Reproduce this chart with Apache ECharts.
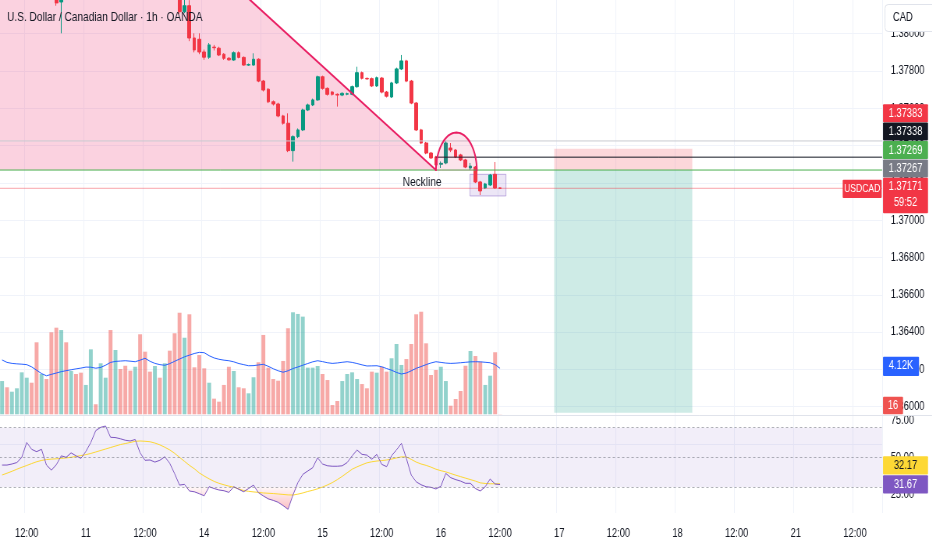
<!DOCTYPE html>
<html><head><meta charset="utf-8">
<script src="https://cdn.jsdelivr.net/npm/echarts@6.0.0/dist/echarts.min.js"></script>
<style>
html,body{margin:0;padding:0;overflow:hidden;background:#fff;width:932px;height:550px}
#wrap{width:932px;height:550px;overflow:hidden;position:relative}
#chart{width:1195px;height:550px;transform:scaleX(0.78);transform-origin:0 0;position:absolute;left:0;top:0}
</style></head>
<body><div id="wrap"><div id="chart"></div></div>
<script>
// ---------- data ----------
const days = ['10','11','14','15','16','17','18','21'];
const firstHour = 7;
const barCount = 179;
const categories = [];
for (const d of days) for (let h = 0; h < 24; h++) {
  if (d === '10' && h < firstHour) continue;
  categories.push(d + ' ' + String(h).padStart(2,'0') + ':00');
}
const cats = categories.slice(0, barCount);

// [open, close, low, high]
const candles = [
[1.38300,1.38320,1.38290,1.38340],[1.38320,1.38300,1.38280,1.38330],[1.38295,1.38305,1.38285,1.38315],[1.38305,1.38320,1.38295,1.38330],
[1.38320,1.38345,1.38310,1.38360],[1.38345,1.38400,1.38340,1.38420],[1.38400,1.38370,1.38355,1.38410],[1.38390,1.38360,1.38345,1.38405],
[1.38360,1.38385,1.38350,1.38395],[1.38385,1.38290,1.38280,1.38395],[1.38290,1.38230,1.38210,1.38300],[1.38230,1.38165,1.38150,1.38245],
[1.38170,1.38290,1.38002,1.38300],[1.38290,1.38270,1.38255,1.38320],[1.38270,1.38310,1.38260,1.38320],[1.38310,1.38290,1.38280,1.38325],
[1.38290,1.38275,1.38265,1.38300],[1.38275,1.38330,1.38270,1.38340],[1.38330,1.38420,1.38325,1.38430],[1.38420,1.38410,1.38400,1.38430],
[1.38410,1.38450,1.38405,1.38460],[1.38450,1.38470,1.38440,1.38485],[1.38470,1.38390,1.38380,1.38480],[1.38390,1.38400,1.38375,1.38415],
[1.38400,1.38390,1.38380,1.38410],[1.38390,1.38380,1.38370,1.38400],[1.38380,1.38375,1.38365,1.38390],[1.38375,1.38395,1.38370,1.38405],
[1.38395,1.38320,1.38310,1.38400],[1.38320,1.38300,1.38290,1.38330],[1.38305,1.38300,1.38290,1.38315],[1.38285,1.38295,1.38280,1.38305],
[1.38300,1.38290,1.38280,1.38310],[1.38290,1.38320,1.38285,1.38330],[1.38320,1.38290,1.38280,1.38325],[1.38290,1.38210,1.38200,1.38295],
[1.38210,1.38118,1.38105,1.38220],[1.38118,1.38150,1.38110,1.38190],[1.38150,1.37977,1.37960,1.38180],[1.37977,1.37913,1.37900,1.38002],
[1.37970,1.37902,1.37890,1.38002],[1.37902,1.37874,1.37860,1.37915],[1.37874,1.37940,1.37865,1.37950],[1.37928,1.37925,1.37910,1.37940],
[1.37922,1.37886,1.37880,1.37930],[1.37890,1.37868,1.37860,1.37895],[1.37868,1.37860,1.37855,1.37875],[1.37859,1.37898,1.37855,1.37905],
[1.37898,1.37873,1.37868,1.37905],[1.37873,1.37832,1.37828,1.37878],[1.37832,1.37834,1.37828,1.37840],[1.37832,1.37863,1.37828,1.37895],
[1.37863,1.37746,1.37740,1.37868],[1.37746,1.37698,1.37690,1.37752],[1.37702,1.37635,1.37628,1.37708],[1.37635,1.37623,1.37615,1.37642],
[1.37623,1.37559,1.37552,1.37630],[1.37559,1.37520,1.37512,1.37565],[1.37520,1.37373,1.37365,1.37573],[1.37373,1.37448,1.37314,1.37455],
[1.37448,1.37484,1.37440,1.37492],[1.37484,1.37591,1.37478,1.37598],[1.37591,1.37618,1.37585,1.37625],[1.37618,1.37645,1.37612,1.37652],
[1.37645,1.37769,1.37640,1.37775],[1.37769,1.37707,1.37700,1.37775],[1.37707,1.37675,1.37668,1.37712],[1.37687,1.37675,1.37668,1.37692],
[1.37675,1.37671,1.37609,1.37680],[1.37671,1.37680,1.37665,1.37686],[1.37676,1.37678,1.37670,1.37684],[1.37675,1.37716,1.37670,1.37722],
[1.37716,1.37791,1.37710,1.37823],[1.37791,1.37761,1.37755,1.37797],[1.37760,1.37758,1.37752,1.37766],[1.37759,1.37720,1.37714,1.37765],
[1.37720,1.37764,1.37715,1.37770],[1.37762,1.37687,1.37680,1.37768],[1.37687,1.37665,1.37658,1.37693],[1.37661,1.37736,1.37655,1.37742],
[1.37736,1.37811,1.37730,1.37818],[1.37811,1.37854,1.37805,1.37886],[1.37854,1.37746,1.37740,1.37860],[1.37746,1.37628,1.37622,1.37752],
[1.37628,1.37484,1.37478,1.37634],[1.37484,1.37414,1.37408,1.37490],[1.37414,1.37360,1.37354,1.37420],[1.37360,1.37334,1.37328,1.37366],
[1.37339,1.37296,1.37270,1.37345],[1.37300,1.37305,1.37280,1.37315],[1.37307,1.37414,1.37300,1.37425],[1.37387,1.37376,1.37365,1.37414],
[1.37376,1.37339,1.37333,1.37382],[1.37350,1.37323,1.37317,1.37356],[1.37323,1.37285,1.37279,1.37329],[1.37280,1.37290,1.37269,1.37307],
[1.37285,1.37205,1.37199,1.37291],[1.37205,1.37157,1.37135,1.37211],[1.37173,1.37194,1.37167,1.37200],[1.37189,1.37242,1.37183,1.37248],
[1.37246,1.37173,1.37168,1.37312],[1.37173,1.37171,1.37168,1.37175]
];

const volume = [
2980,2420,2025,2330,3760,3280,2830,6450,3610,3160,
7350,7760,7550,6450,3880,3610,3730,2630,5820,900,
4570,3280,7550,5760,4060,4350,3910,4260,7170,5610,
3820,4330,3280,4570,5700,7260,9100,6860,8960,4210,
5310,4120,2830,1400,1130,2630,4260,3880,2420,2330,
1880,3320,4660,7110,4180,3160,3010,4780,7710,9140,
8990,8750,4180,4180,4330,3610,3070,830,1190,2980,
3610,3760,3160,2710,2330,3820,3730,4260,3820,5020,
6300,4420,4950,6300,8960,9190,6360,3520,3970,4260,
2980,770,1370,2090,4350,5670,5220,4710,2630,3460,
5560,16];

const volumeMA = [
4870,4650,4560,4520,4490,4450,4250,3950,3650,3450,
3580,3700,3820,3910,3990,4070,4140,4230,4220,4130,
4200,4400,4650,4740,4770,4800,4760,4710,4850,5020,
4750,4560,4450,4390,4540,4750,4950,5150,5300,5450,
5550,5520,5250,5050,4930,4850,4800,4700,4550,4450,
4350,4360,4420,4480,4300,4080,3900,3770,3900,4100,
4240,4400,4550,4700,4800,4720,4620,4560,4600,4660,
4710,4650,4550,4430,4330,4340,4350,4260,4100,3950,
3750,3610,3700,3900,4120,4280,4450,4600,4710,4650,
4590,4560,4580,4620,4660,4700,4710,4700,4660,4620,
4450,4120];

const rsi = [
44.8,44.8,45.5,46.5,50,60,55.4,53.8,55.4,44.8,
41.4,45,51,50,53,51,49.3,54,60,68,
70.2,71.1,63.5,63.3,62.5,61.5,61,62,53,48,
48.2,46.8,48,50.4,46,39,31.3,31.8,27.3,26.8,
25.5,24.1,30.2,29,28,27.5,26.4,30.2,28.5,26.8,
29,31.3,26.2,24,22,21,19.7,17.5,15,24.6,
33,38.5,40.8,43,49.7,45.5,44.3,44,44,44.3,
46.5,51,54.9,52,51.5,48.7,52,45.3,43.7,51.1,
55,59.4,49.3,38,33.5,31.5,30.2,29.8,28.7,30.5,
39.2,36.3,35,34,32.5,32.5,29,27.3,30.2,35.4,
32,31.67];

const rsiMA = [
38.1,39.3,40.6,42,43.3,44.5,45.8,47,47.9,48.5,
48.8,49,49.3,49.6,50,50.6,51.2,51.8,52.6,53.6,
54.6,55.6,56.6,57.6,58.6,59.3,60,60.8,61,60.8,
60.5,59.6,58.4,56.8,55,52.7,50,47.3,44.6,42.3,
39.5,37.4,35.5,33.8,32.5,31.5,30.6,29.9,28.7,27.6,
27.1,26.7,26.4,26,25.8,25.6,25.3,25,24.7,24.6,
25.2,26,27,27.8,28.8,30,31.4,33,35,37.2,
39.6,42,43.6,45,46.3,47,47.5,47.8,48.2,48.8,
49.6,50.3,50.3,48.6,46.8,45.5,44.6,43.4,42,41,
40.2,39.1,38,37,36,35,34,32.8,32.4,32.2,
32.2,32.17];

const rsiBands = [70, 50, 30];
const rsiTicks = [25, 50, 75];

// drawings (x in bar index, y in price)
const grayLevel = 1.37425;
const resistanceLevel = 1.37338;
const necklineLevel = 1.37269;
const stopLevel = 1.37383;
const prevLevel = 1.37267;
const lastPrice = 1.37171;
const targetLevel = 1.35967;
const trendLine = [[43.3, 1.38350], [88, 1.37269]];
const shadedZone = [[-1, 1.38350], [43.3, 1.38350], [88, 1.37269], [-1, 1.37269]];
const arcStart = [88, 1.37269], arcPeak = [92.1, 1.37470], arcEnd = [96.3, 1.37258];
const positionX = [112, 140];
const boxX = [94.9, 102.2], boxY = [1.37246, 1.37130];
const resistanceFrom = 88;
const necklineLabel = [85.2, 1.37205];
const timer = '59:52';

// ---------- layout helpers ----------
const S = 0.78;                 // horizontal squeeze of the page
const sx = v => v / S;          // screen px -> chart px
const FONT = "'Liberation Sans', Arial, sans-serif";
const isMajor = (i, v) => { const hh = String(v).split(' ')[1]; return hh === '00:00' || hh === '12:00'; };
const fmtTime = v => { const p = String(v).split(' '); return p[1] === '00:00' ? p[0] : (p[1] === '12:00' ? '12:00' : ''); };

const UP = '#089981', DOWN = '#F23645';
const volData = volume.map((v, i) => ({
  value: v,
  itemStyle: { color: candles[i][1] >= candles[i][0] ? 'rgba(38,166,154,0.5)' : 'rgba(239,83,80,0.5)' }
}));

function drawing(name, z, build) {
  return { type: 'custom', name, xAxisIndex: 3, yAxisIndex: 0, z, silent: true, clip: true,
    data: [[50, 1.37]], renderItem: (params, api) => build(api) };
}
function hline(api, x0, x1, y, style) {
  const a = api.coord([x0, y]), b = api.coord([x1, y]);
  return { type: 'line', shape: { x1: a[0], y1: a[1], x2: b[0], y2: b[1] }, style };
}
function rectEl(api, x0, x1, y0, y1, style) {
  const a = api.coord([x0, y0]), b = api.coord([x1, y1]);
  return { type: 'rect', shape: { x: a[0], y: a[1], width: b[0] - a[0], height: b[1] - a[1] }, style };
}

const option = {
  animation: false,
  backgroundColor: '#ffffff',
  textStyle: { fontFamily: FONT },
  grid: [
    { left: sx(-0.4), width: sx(882.5), top: -3.6, height: 447.6, outerBoundsMode: 'none' },
    { left: sx(-0.4), width: sx(882.5), top: 0, height: 414.3, outerBoundsMode: 'none' },
    { left: sx(-0.4), width: sx(882.5), top: 416.5, height: 96.5, outerBoundsMode: 'none' }
  ],
  xAxis: [
    { type: 'category', gridIndex: 0, data: cats, axisLine: { show: false }, axisTick: { show: false },
      axisLabel: { show: false }, splitLine: { show: true, interval: isMajor, lineStyle: { color: '#f0f3fa' } } },
    { type: 'category', gridIndex: 1, data: cats, show: false },
    { type: 'category', gridIndex: 2, data: cats, axisLine: { show: false }, axisTick: { show: false },
      axisLabel: { interval: isMajor, formatter: fmtTime, color: '#131722', fontSize: 12, margin: 15, fontFamily: FONT },
      splitLine: { show: true, interval: isMajor, lineStyle: { color: '#f0f3fa' } } },
    { type: 'value', gridIndex: 0, min: -0.5, max: barCount - 0.5, show: false, splitLine: { show: false } }
  ],
  yAxis: [
    { type: 'value', gridIndex: 0, position: 'right', min: 1.358, max: 1.382, interval: 0.002, scale: true,
      axisLine: { show: false }, axisTick: { show: false }, splitLine: { lineStyle: { color: '#f0f3fa' } },
      axisLabel: { color: '#131722', fontSize: 12, margin: 11, fontFamily: FONT,
        formatter: v => (v < 1.3595 || v > 1.3805) ? '' : v.toFixed(5) } },
    { type: 'value', gridIndex: 1, min: 0, max: 37120, show: false, splitLine: { show: false } },
    { type: 'value', gridIndex: 2, position: 'right', min: 12.5, max: 77.5, interval: 12.5,
      axisLine: { show: false }, axisTick: { show: false }, splitLine: { show: false },
      axisLabel: { color: '#131722', fontSize: 12, margin: 11, fontFamily: FONT, showMinLabel: false, showMaxLabel: false,
        formatter: v => rsiTicks.some(t => Math.abs(t - v) < 1e-6) ? v.toFixed(2) : '' } }
  ],
  series: [
    drawing('zone', 1, api => ({ type: 'polygon', shape: { points: shadedZone.map(p => api.coord(p)) },
      style: { fill: 'rgba(233,30,99,0.2)' } })),
    drawing('position', 1, api => ({ type: 'group', children: [
      rectEl(api, positionX[0], positionX[1], stopLevel, necklineLevel, { fill: 'rgba(242,54,69,0.2)' }),
      rectEl(api, positionX[0], positionX[1], necklineLevel, targetLevel, { fill: 'rgba(8,153,129,0.2)' })
    ] })),
    drawing('box', 1, api => rectEl(api, boxX[0], boxX[1], boxY[0], boxY[1],
      { fill: 'rgba(149,117,205,0.18)', stroke: 'rgba(149,117,205,0.55)', lineWidth: 1 })),
    {
      type: 'candlestick', name: 'USDCAD', xAxisIndex: 0, yAxisIndex: 0, z: 2, barWidth: '66%', clip: true,
      data: candles,
      itemStyle: { color: UP, color0: DOWN, borderColor: UP, borderColor0: DOWN, borderWidth: 1 }
    },
    drawing('levels', 3, api => ({ type: 'group', children: [
      hline(api, -0.5, barCount - 0.5, grayLevel, { stroke: '#c9cbd1', lineWidth: 1 }),
      hline(api, resistanceFrom, barCount - 0.5, resistanceLevel, { stroke: '#131722', lineWidth: 1 }),
      hline(api, -0.5, barCount - 0.5, necklineLevel, { stroke: '#4CAF50', lineWidth: 1 }),
      hline(api, -0.5, barCount - 0.5, lastPrice, { stroke: 'rgba(242,54,69,0.45)', lineWidth: 1 })
    ] })),
    drawing('pattern', 4, api => {
      const a = api.coord(arcStart), b = api.coord(arcPeak), c = api.coord(arcEnd);
      const cx = (a[0] + c[0]) / 2, base = (a[1] + c[1]) / 2, rx = (c[0] - a[0]) / 2, ry = base - b[1];
      const pts = [];
      for (let k = 0; k <= 48; k++) { const t = Math.PI - Math.PI * k / 48; pts.push([cx + rx * Math.cos(t), base - ry * Math.sin(t)]); }
      return { type: 'group', children: [
        { type: 'polygon', shape: { points: pts }, style: { fill: 'rgba(233,30,99,0.12)' } },
        { type: 'polyline', shape: { points: pts }, style: { stroke: '#E91E63', lineWidth: 2, fill: null } },
        { type: 'polyline', shape: { points: trendLine.map(p => api.coord(p)) }, style: { stroke: '#E91E63', lineWidth: 2, fill: null } }
      ] };
    }),
    drawing('label', 4, api => {
      const p = api.coord(necklineLabel);
      return { type: 'text', x: p[0], y: p[1], style: { text: 'Neckline', fill: '#131722', fontSize: 13, fontFamily: FONT, align: 'center', verticalAlign: 'middle' } };
    }),
    { type: 'bar', name: 'Volume', xAxisIndex: 1, yAxisIndex: 1, barWidth: '78%', data: volData, silent: true },
    { type: 'line', name: 'Volume MA', xAxisIndex: 1, yAxisIndex: 1, data: volumeMA, symbol: 'none',
      lineStyle: { color: '#2962FF', width: 1 }, silent: true, z: 3 },
    { type: 'line', name: 'oversold', xAxisIndex: 2, yAxisIndex: 2, data: rsi.map(v => Math.min(v, rsiBands[2])),
      symbol: 'none', lineStyle: { width: 0, opacity: 0 }, silent: true,
      areaStyle: { origin: rsiBands[2], color: new echarts.graphic.LinearGradient(0, 0, 0, 1, [
        { offset: 0, color: 'rgba(242,54,69,0.05)' }, { offset: 1, color: 'rgba(242,54,69,0.45)' }]) } },
    { type: 'line', name: 'RSI MA', xAxisIndex: 2, yAxisIndex: 2, data: rsiMA, symbol: 'none',
      lineStyle: { color: '#FDD835', width: 1 }, silent: true, z: 3 },
    { type: 'line', name: 'RSI', xAxisIndex: 2, yAxisIndex: 2, data: rsi, symbol: 'none',
      lineStyle: { color: '#7E57C2', width: 1 }, silent: true, z: 4,
      markLine: { silent: true, symbol: 'none', label: { show: false },
        lineStyle: { color: 'rgba(120,123,134,0.6)', type: [3, 3], width: 1 },
        data: rsiBands.map(v => ({ yAxis: v })) },
      markArea: { silent: true, itemStyle: { color: 'rgba(126,87,194,0.1)' },
        data: [[{ yAxis: rsiBands[0] }, { yAxis: rsiBands[2] }]] } }
  ]
};

const chart = echarts.init(document.getElementById('chart'), null, { renderer: 'canvas' });
chart.setOption(option);

// ---------- price-scale tags & overlays ----------
const yP = (axis, v) => chart.convertToPixel({ yAxisIndex: axis }, v);
const ZT = 100;
function tag(xs0, xs1, top, h, bg, texts, color, fs, gap) {
  const x0 = sx(xs0), x1 = sx(xs1);
  const out = [{ type: 'rect', z: ZT, shape: { x: x0, y: top, width: x1 - x0, height: h, r: 1 }, style: { fill: bg } }];
  texts.forEach((t, k) => out.push({ type: 'text', z: ZT + 1, x: (x0 + x1) / 2, y: top + 9.3 + k * (gap || 15),
    style: { text: t, fill: color, fontSize: fs || 12, fontFamily: FONT, align: 'center', verticalAlign: 'middle' } }));
  return out;
}
const curY = yP(0, lastPrice);
const curTop = curY - 10.5;
const step = 18.4;
let gfx = [
  { type: 'text', z: ZT, x: sx(7), y: 17.5, style: { text: 'U.S. Dollar / Canadian Dollar · 1h · OANDA', fill: '#131722',
      fontSize: 13, fontFamily: FONT, verticalAlign: 'middle' } },
  { type: 'rect', z: ZT, shape: { x: sx(885), y: 4.5, width: sx(60), height: 27, r: 4 },
    style: { fill: '#ffffff', stroke: '#e0e3eb', lineWidth: 1 } },
  { type: 'text', z: ZT + 1, x: sx(893), y: 17.5, style: { text: 'CAD', fill: '#131722', fontSize: 12, fontFamily: FONT, verticalAlign: 'middle' } },
  { type: 'line', z: ZT - 10, shape: { x1: 0, y1: 415.5, x2: sx(932), y2: 415.5 }, style: { stroke: '#e0e3eb', lineWidth: 1 } }
];
gfx = gfx.concat(
  tag(883, 928, curTop - 4 * step, 18, '#F23645', [stopLevel.toFixed(5)], '#ffffff'),
  tag(883, 928, curTop - 3 * step, 18, '#131722', [resistanceLevel.toFixed(5)], '#ffffff'),
  tag(883, 928, curTop - 2 * step, 18, '#4CAF50', [necklineLevel.toFixed(5)], '#ffffff'),
  tag(883, 928, curTop - 1 * step, 18, '#787B86', [prevLevel.toFixed(5)], '#ffffff'),
  tag(883, 928, curTop, 35.5, '#F23645', [lastPrice.toFixed(5), timer], '#ffffff', 12, 16),
  tag(842.7, 881.7, curY - 8.5, 18.3, '#F23645', ['USDCAD'], '#ffffff', 11)
);
const vmaY = yP(1, volumeMA[volumeMA.length - 1]);
gfx = gfx.concat(tag(883, 919, vmaY - 11.5, 19.3, '#2962FF', [(volumeMA[volumeMA.length - 1] / 1000).toFixed(2) + 'K'], '#ffffff'));
const lastVolY = Math.min(yP(1, volume[volume.length - 1]), 414.3 - 8.8);
gfx = gfx.concat(tag(883, 903, lastVolY - 8.8, 17.6, '#ef5350', [String(volume[volume.length - 1])], '#ffffff'));
const rsiY = yP(2, rsi[rsi.length - 1]);
gfx = gfx.concat(tag(883, 928, rsiY - 9.3, 18.3, '#7E57C2', [rsi[rsi.length - 1].toFixed(2)], '#ffffff'));
gfx = gfx.concat(tag(883, 928, rsiY - 9.3 - 19, 18.3, '#FDD835', [rsiMA[rsiMA.length - 1].toFixed(2)], '#131722'));
chart.setOption({ graphic: { elements: gfx } });
</script>
</body></html>
